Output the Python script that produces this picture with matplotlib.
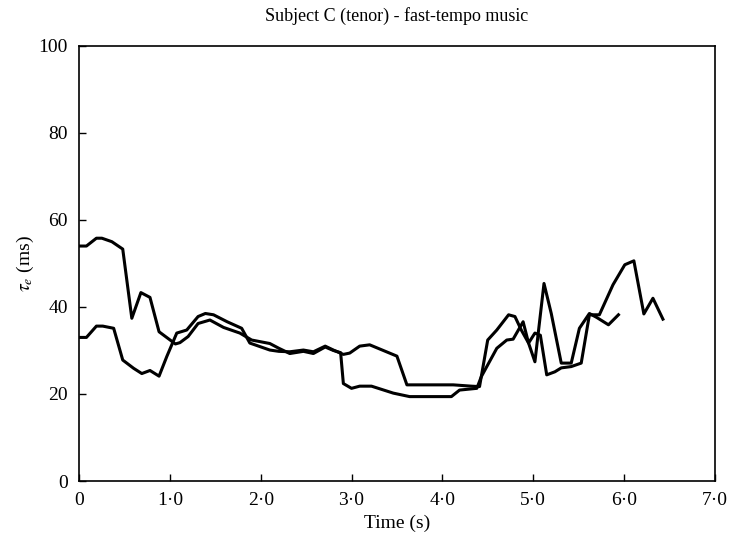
import matplotlib
matplotlib.use("Agg")
import matplotlib.pyplot as plt

# first recording (starts near 54 ms)
time_a = [0.0, 0.08, 0.19, 0.25, 0.36, 0.48, 0.58, 0.68, 0.78, 0.88,
          1.06, 1.11, 1.2, 1.31, 1.44, 1.59, 1.77, 1.9, 2.1, 2.2,
          2.32, 2.47, 2.58, 2.71, 2.8, 2.88, 2.91, 3.0, 3.09, 3.22,
          3.46, 3.64, 4.1, 4.19, 4.38, 4.43, 4.6, 4.71, 4.78, 4.89,
          4.95, 5.02, 5.08, 5.15, 5.24, 5.31, 5.42, 5.53, 5.62, 5.73,
          5.88, 6.01, 6.11, 6.22, 6.32, 6.43]
tau_a = [54.0, 54.0, 55.8, 55.8, 55.0, 53.3, 37.4, 43.3, 42.2, 34.3,
         31.5, 31.8, 33.2, 36.2, 37.0, 35.3, 34.0, 32.4, 31.6, 30.5,
         29.3, 29.8, 29.3, 30.8, 30.0, 29.5, 22.4, 21.3, 21.8, 21.8,
         20.2, 19.4, 19.4, 20.9, 21.3, 24.0, 30.5, 32.4, 32.6, 36.6,
         31.7, 34.0, 33.5, 24.4, 25.1, 26.0, 26.3, 27.1, 38.2, 38.2,
         45.1, 49.7, 50.6, 38.4, 42.0, 37.2]

# second recording (starts near 33 ms)
time_b = [0.0, 0.08, 0.19, 0.26, 0.38, 0.48, 0.6, 0.69, 0.78, 0.88,
          0.965, 1.075, 1.185, 1.31, 1.39, 1.48, 1.63, 1.79, 1.88, 1.99,
          2.1, 2.2, 2.32, 2.47, 2.58, 2.71, 2.8, 2.91, 2.98, 3.09,
          3.2, 3.5, 3.61, 4.12, 4.32, 4.41, 4.5, 4.6, 4.73, 4.8,
          4.87, 4.95, 5.02, 5.12, 5.2, 5.31, 5.42, 5.51, 5.62, 5.7,
          5.83, 5.94]
tau_b = [33.0, 33.0, 35.6, 35.6, 35.1, 27.8, 25.9, 24.7, 25.4, 24.1,
         28.6, 34.0, 34.7, 37.8, 38.5, 38.2, 36.6, 35.1, 31.7, 30.9,
         30.1, 29.8, 29.7, 30.1, 29.7, 31.0, 30.1, 29.1, 29.4, 31.0,
         31.3, 28.7, 22.1, 22.1, 21.8, 21.7, 32.4, 34.7, 38.2, 37.8,
         34.7, 31.7, 27.4, 45.4, 38.5, 27.1, 27.1, 35.1, 38.5, 37.6,
         35.9, 38.2]

x_ticks = [0, 1, 2, 3, 4, 5, 6, 7]
x_tick_labels = ["0", "1\u00b70", "2\u00b70", "3\u00b70", "4\u00b70",
                 "5\u00b70", "6\u00b70", "7\u00b70"]
y_ticks = [0, 20, 40, 60, 80, 100]

plt.rcParams["font.family"] = ["Liberation Serif", "DejaVu Serif"]
plt.rcParams["mathtext.fontset"] = "stix"

fig = plt.figure(figsize=(7.33, 5.46), dpi=100)
ax = fig.add_axes([0.108, 0.119, 0.867, 0.797])

ax.plot(time_a, tau_a, color="black", lw=2.2)
ax.plot(time_b, tau_b, color="black", lw=2.2)

ax.set_xlim(0, 7)
ax.set_ylim(0, 100)
ax.set_xticks(x_ticks)
ax.set_xticklabels(x_tick_labels)
ax.set_yticks(y_ticks)
ax.tick_params(direction="in", length=5, width=1, labelsize=14,
               top=False, right=False, pad=8)
for spine in ax.spines.values():
    spine.set_linewidth(1.2)

ax.set_xlabel("Time (s)", fontsize=14, labelpad=4)
ax.set_ylabel(r"$\tau_e$ (ms)", fontsize=14, labelpad=2)
ax.set_title("Subject C (tenor) - fast-tempo music", fontsize=13, pad=18)

fig.savefig("out.png", dpi=100)
